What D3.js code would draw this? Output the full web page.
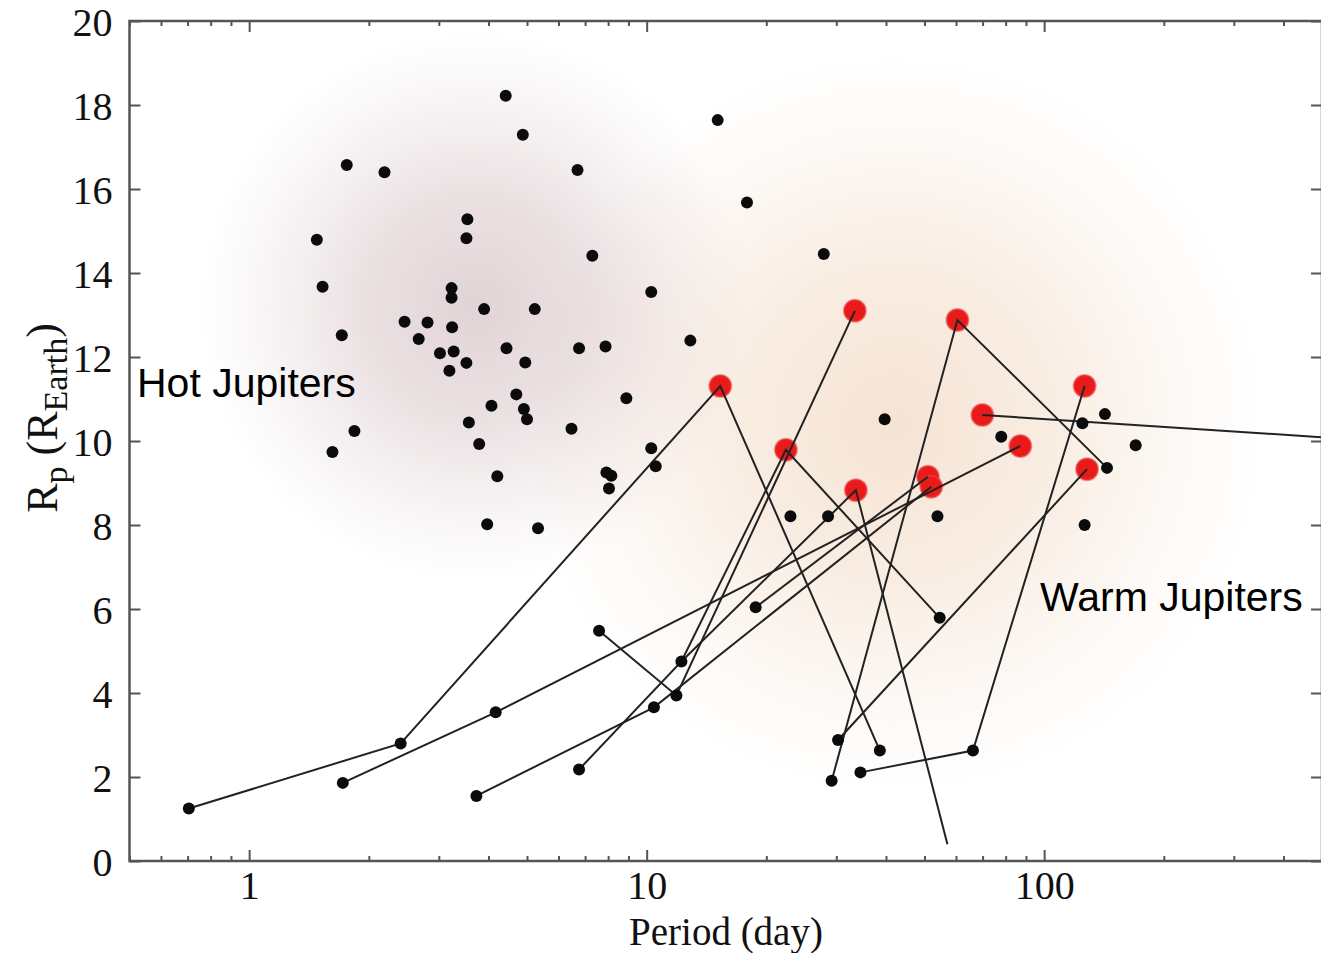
<!DOCTYPE html>
<html>
<head>
<meta charset="utf-8">
<script src="https://cdn.jsdelivr.net/npm/d3@7"></script>
<style>
body { margin: 0; background: #fff; }
</style>
</head>
<body>
<div id="chart"></div>
<script>

// Size of the picture
var width = 1321;
var height = 953;

// Black dots: hot jupiters and other planets (period in days, radius in R_Earth)
var blackPeriod = [1.48, 1.53, 1.71, 1.76, 1.84, 1.62, 2.19, 2.46, 2.67, 2.81, 3.02, 3.27, 3.19, 3.24, 3.23, 3.23,
	3.52, 3.54, 3.52, 3.90, 5.23, 4.44, 4.95, 6.76, 7.30, 4.70, 4.07, 4.91, 5.00, 3.57, 3.79, 6.47, 4.21, 3.97, 5.33,
	4.42, 4.88, 6.70, 15.09, 17.88, 27.9, 10.27, 12.88, 7.88, 8.89, 10.27, 10.54, 7.92, 8.15, 8.04, 39.7, 23.0, 28.6,
	53.9, 78.0, 142.2, 124.8, 169.9, 143.9, 126.4,
	0.705, 2.405, 1.72, 4.17, 3.73, 7.59, 18.8, 12.23, 11.88, 10.43, 6.76, 54.6, 30.3, 38.6, 29.2, 34.5, 66.2];
var blackRadius = [14.79, 13.67, 12.52, 16.57, 10.24, 9.74, 16.40, 12.84, 12.43, 12.82, 12.09, 12.13, 11.67, 12.71, 13.41, 13.64,
	14.83, 15.28, 11.86, 13.14, 13.14, 12.21, 11.87, 12.21, 14.41, 11.11, 10.84, 10.76, 10.52, 10.44, 9.93, 10.29, 9.16, 8.02, 7.92,
	18.22, 17.29, 16.45, 17.64, 15.68, 14.45, 13.55, 12.39, 12.25, 11.02, 9.83, 9.40, 9.25, 9.17, 8.87, 10.52, 8.21, 8.21,
	8.21, 10.10, 10.64, 10.42, 9.90, 9.36, 8.0,
	1.25, 2.80, 1.86, 3.54, 1.55, 5.48, 6.04, 4.75, 3.94, 3.66, 2.18, 5.79, 2.88, 2.63, 1.91, 2.11, 2.63];

// Red dots: warm jupiters with companions
var redPeriod = [15.32, 33.4, 60.5, 22.4, 33.6, 51.0, 52.0, 69.9, 87.1, 126.4, 128.2];
var redRadius = [11.31, 13.10, 12.88, 9.79, 8.83, 9.15, 8.91, 10.62, 9.88, 11.31, 9.33];

// Lines joining the planets of one system
var systemPeriods = [
	[0.705, 2.405, 15.32, 38.6],
	[1.72, 4.17, 87.1],
	[3.73, 10.43, 52.0],
	[6.76, 12.23, 22.4, 54.6],
	[7.59, 11.88, 33.4],
	[18.8, 51.0],
	[12.23, 33.6, 57.1],
	[29.2, 60.5, 143.9],
	[34.5, 66.2, 126.4],
	[30.3, 128.2],
	[69.9, 600]
];
var systemRadii = [
	[1.25, 2.80, 11.31, 2.63],
	[1.86, 3.54, 9.88],
	[1.55, 3.66, 8.91],
	[2.18, 4.75, 9.79, 5.79],
	[5.48, 3.94, 13.10],
	[6.04, 9.15],
	[4.75, 8.83, 0.40],
	[1.91, 12.88, 9.36],
	[2.11, 2.63, 11.31],
	[2.88, 9.33],
	[10.62, 10.04]
];

var yTicks = [0, 2, 4, 6, 8, 10, 12, 14, 16, 18, 20];
var xLabels = [1, 10, 100];

// Scales
var x = d3.scaleLog()
	.domain([0.5, 500])
	.range([129.5, 1322]);

var y = d3.scaleLinear()
	.domain([0, 20])
	.range([861, 21]);

var svg = d3.select("#chart")
	.append("svg")
	.attr("width", width)
	.attr("height", height)
	.style("background-color", "white");

var defs = svg.append("defs");

defs.append("clipPath")
	.attr("id", "plotClip")
	.append("rect")
	.attr("x", x(0.5))
	.attr("y", y(20))
	.attr("width", x(500) - x(0.5))
	.attr("height", y(0) - y(20));

// soft glow behind each group of planets
function glow(id, cx, cy, r, col, op) {
	var g = defs.append("radialGradient")
		.attr("id", id)
		.attr("gradientUnits", "userSpaceOnUse")
		.attr("cx", cx).attr("cy", cy).attr("r", r);
	g.append("stop").attr("offset", "0%").attr("stop-color", col).attr("stop-opacity", op);
	g.append("stop").attr("offset", "40%").attr("stop-color", col).attr("stop-opacity", op * 0.7);
	g.append("stop").attr("offset", "75%").attr("stop-color", col).attr("stop-opacity", op * 0.25);
	g.append("stop").attr("offset", "100%").attr("stop-color", col).attr("stop-opacity", 0);
}
glow("hotGlow", x(3.7), y(13.2), 275, "rgb(204,180,184)", 0.58);
glow("warmGlow", x(42), y(10.4), 370, "rgb(238,206,178)", 0.55);

var plot = svg.append("g").attr("clip-path", "url(#plotClip)");

plot.append("rect")
	.attr("x", 0).attr("y", 0).attr("width", width).attr("height", height)
	.style("fill", "url(#warmGlow)");
plot.append("rect")
	.attr("x", 0).attr("y", 0).attr("width", width).attr("height", height)
	.style("fill", "url(#hotGlow)");

// red warm jupiters (under the lines)
plot.selectAll(".red")
	.data(redPeriod)
	.enter()
	.append("circle")
	.attr("class", "red")
	.attr("cx", function(d) { return x(d); })
	.attr("cy", function(d, i) { return y(redRadius[i]); })
	.attr("r", 11)
	.style("fill", "#e81a1a")
	.style("stroke", "rgba(236,70,70,0.55)")
	.style("stroke-width", 2);

var line = d3.line()
	.x(function(d) { return x(d[0]); })
	.y(function(d) { return y(d[1]); });

plot.selectAll(".system")
	.data(systemPeriods)
	.enter()
	.append("path")
	.attr("class", "system")
	.attr("d", function(d, i) {
		return line(d.map(function(p, j) { return [p, systemRadii[i][j]]; }));
	})
	.style("fill", "none")
	.style("stroke", "#222")
	.style("stroke-width", 2);

plot.selectAll(".black")
	.data(blackPeriod)
	.enter()
	.append("circle")
	.attr("class", "black")
	.attr("cx", function(d) { return x(d); })
	.attr("cy", function(d, i) { return y(blackRadius[i]); })
	.attr("r", 6)
	.style("fill", "#0b0b0b");

// Axes, ticks pointing inside on all four sides
var minorX = x.ticks().filter(function(d) { return xLabels.indexOf(d) < 0; });

function styleAxis(g) {
	g.select(".domain").remove();
	g.selectAll(".tick line").style("stroke", "#555").style("stroke-width", 2);
	g.selectAll("text")
		.style("font-family", "'Liberation Serif', 'Times New Roman', serif")
		.style("font-size", "40px")
		.style("fill", "#111");
}

svg.append("g")
	.attr("transform", "translate(0," + y(0) + ")")
	.call(d3.axisBottom(x).tickValues(xLabels).tickSize(-11).tickPadding(10).tickFormat(d3.format("d")))
	.call(styleAxis);
svg.append("g")
	.attr("transform", "translate(0," + y(0) + ")")
	.call(d3.axisBottom(x).tickValues(minorX).tickSize(-5).tickFormat(""))
	.call(styleAxis);
svg.append("g")
	.attr("transform", "translate(0," + y(20) + ")")
	.call(d3.axisTop(x).tickValues(xLabels).tickSize(-11).tickFormat(""))
	.call(styleAxis);
svg.append("g")
	.attr("transform", "translate(0," + y(20) + ")")
	.call(d3.axisTop(x).tickValues(minorX).tickSize(-5).tickFormat(""))
	.call(styleAxis);
svg.append("g")
	.attr("transform", "translate(" + x(0.5) + ",0)")
	.call(d3.axisLeft(y).tickValues(yTicks).tickSize(-11).tickPadding(17))
	.call(styleAxis)
	.selectAll("text")
	.attr("dy", "0.37em");
svg.append("g")
	.attr("transform", "translate(" + x(500) + ",0)")
	.call(d3.axisRight(y).tickValues(yTicks).tickSize(-11).tickFormat(""))
	.call(styleAxis);

// frame
svg.append("rect")
	.attr("x", x(0.5))
	.attr("y", y(20))
	.attr("width", x(500) - x(0.5))
	.attr("height", y(0) - y(20))
	.style("fill", "none")
	.style("stroke", "#555")
	.style("stroke-width", 2.5);

// axis titles
svg.append("text")
	.attr("x", 726)
	.attr("y", 945)
	.attr("text-anchor", "middle")
	.style("font-family", "'Liberation Serif', 'Times New Roman', serif")
	.style("font-size", "39px")
	.style("fill", "#111")
	.text("Period (day)");

var yTitle = svg.append("text")
	.attr("transform", "translate(57,418) rotate(-90)")
	.attr("text-anchor", "middle")
	.style("font-family", "'Liberation Serif', 'Times New Roman', serif")
	.style("font-size", "44px")
	.style("fill", "#111");
yTitle.append("tspan").text("R");
yTitle.append("tspan").attr("dy", 10).style("font-size", "34px").text("p");
yTitle.append("tspan").attr("dy", -10).text(" (R");
yTitle.append("tspan").attr("dy", 10).style("font-size", "34px").text("Earth");
yTitle.append("tspan").attr("dy", -10).text(")");

// group labels
svg.append("text")
	.attr("x", 137)
	.attr("y", 397)
	.style("font-family", "'Liberation Sans', Arial, sans-serif")
	.style("font-size", "41px")
	.style("fill", "#000")
	.text("Hot Jupiters");

svg.append("text")
	.attr("x", 1040)
	.attr("y", 611)
	.style("font-family", "'Liberation Sans', Arial, sans-serif")
	.style("font-size", "41px")
	.style("fill", "#000")
	.text("Warm Jupiters");

</script>
</body>
</html>
